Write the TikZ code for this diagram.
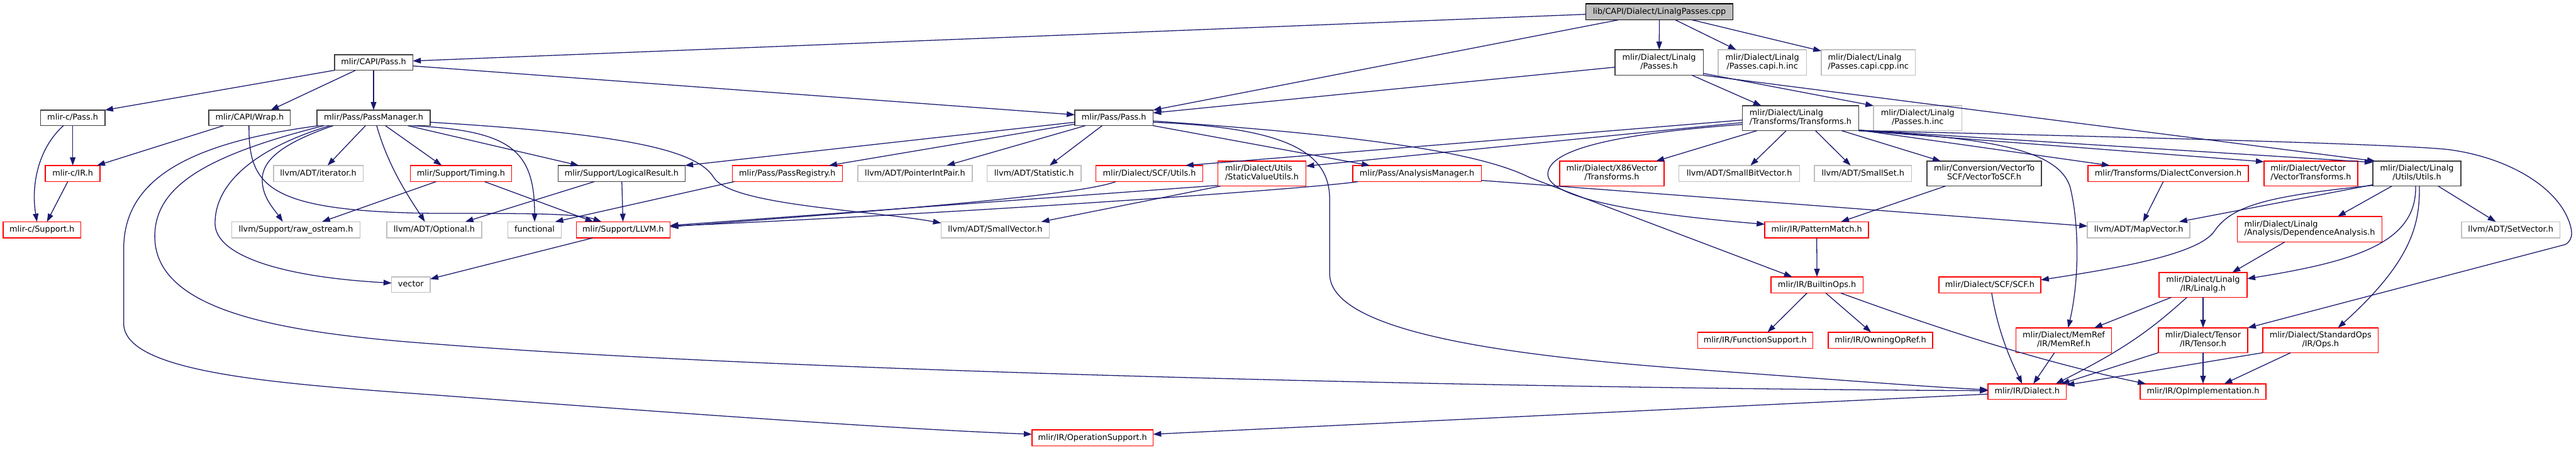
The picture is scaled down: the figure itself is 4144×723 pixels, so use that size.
\documentclass[tikz,border=0pt]{standalone}
\usepackage{fontspec}
\setmainfont{DejaVu Sans}
\usetikzlibrary{arrows.meta}
\definecolor{edgeblue}{HTML}{191970}
\definecolor{docgray}{HTML}{404040}
\definecolor{undocgray}{HTML}{BFBFBF}
\definecolor{rootgray}{HTML}{BFBFBF}
\definecolor{redb}{HTML}{FF0000}
\newcommand\twol[2]{\begin{tabular}{@{}l@{}}#1\\\multicolumn{1}{@{}c@{}}{#2}\end{tabular}}
\newcommand\nd[7]{\node[#1,minimum width=#5pt,minimum height=#6pt] (#2) at (#3,#4) {#7};}
\tikzset{
  box/.style={rectangle,inner sep=0pt,outer sep=0pt,line width=1.5pt,fill=white,font=\fontsize{13}{14}\selectfont},
  one/.style={text height=9.9pt,text depth=3.1pt},
  nb/.style={box,draw=docgray},
  nr/.style={box,draw=redb},
  ng/.style={box,draw=undocgray},
  root/.style={box,draw=black,fill=rootgray},
  e/.style={draw=edgeblue,line width=1.3pt,-{Triangle[length=13pt,width=9pt]}}
}
\begin{document}
\begin{tikzpicture}[x=1pt,y=-1pt]
\useasboundingbox (0,0) rectangle (4144,723);
\fill[white] (0,0) rectangle (4144,723);
% nodes
\nd{root,one}{top}{2669.5}{19}{237}{26}{lib/CAPI/Dialect/LinalgPasses.cpp}
\nd{nb,one}{capipass}{601}{100.5}{126}{25}{mlir/CAPI/Pass.h}
\nd{nb}{lpasses}{2669}{100.5}{142}{41}{\twol{mlir/Dialect/Linalg}{/Passes.h}}
\nd{ng}{capih}{2835}{100.5}{142}{41}{\twol{mlir/Dialect/Linalg}{/Passes.capi.h.inc}}
\nd{ng}{capicpp}{3005.5}{100.5}{151}{41}{\twol{mlir/Dialect/Linalg}{/Passes.capi.cpp.inc}}
\nd{nb,one}{cpass}{117}{189.5}{104}{25}{mlir-c/Pass.h}
\nd{nb,one}{wrap}{401.5}{189.5}{131}{25}{mlir/CAPI/Wrap.h}
\nd{nb,one}{pm}{601}{189.5}{182}{25}{mlir/Pass/PassManager.h}
\nd{nb,one}{pass}{1792}{189.5}{126}{25}{mlir/Pass/Pass.h}
\nd{nb}{transf}{2896.5}{190}{187}{40}{\twol{mlir/Dialect/Linalg}{/Transforms/Transforms.h}}
\nd{ng}{hinc}{3085}{190}{142}{40}{\twol{mlir/Dialect/Linalg}{/Passes.h.inc}}
\nd{nr,one}{cir}{117}{279}{88}{26}{mlir-c/IR.h}
\nd{ng,one}{iter}{512}{279}{144}{26}{llvm/ADT/iterator.h}
\nd{nr,one}{timing}{741.5}{279}{163}{26}{mlir/Support/Timing.h}
\nd{nb,one}{logres}{1000}{279}{204}{26}{mlir/Support/LogicalResult.h}
\nd{nr,one}{preg}{1266.5}{279}{177}{26}{mlir/Pass/PassRegistry.h}
\nd{ng,one}{pip}{1472}{279}{184}{26}{llvm/ADT/PointerIntPair.h}
\nd{ng,one}{stat}{1663.5}{279}{151}{26}{llvm/ADT/Statistic.h}
\nd{nr,one}{scfutils}{1849}{279}{172}{26}{mlir/Dialect/SCF/Utils.h}
\nd{nr}{svu}{2030}{279}{142}{40}{\twol{mlir/Dialect/Utils}{/StaticValueUtils.h}}
\nd{nr,one}{am}{2279.5}{279}{207}{26}{mlir/Pass/AnalysisManager.h}
\nd{nr}{x86}{2593}{279}{168}{40}{\twol{mlir/Dialect/X86Vector}{/Transforms.h}}
\nd{ng,one}{sbv}{2798}{279}{194}{26}{llvm/ADT/SmallBitVector.h}
\nd{ng,one}{sset}{2997}{279}{156}{26}{llvm/ADT/SmallSet.h}
\nd{nb}{v2scf}{3192}{279}{184}{40}{\twol{mlir/Conversion/VectorTo}{SCF/VectorToSCF.h}}
\nd{nr,one}{dconv}{3488}{279}{258}{26}{mlir/Transforms/DialectConversion.h}
\nd{nr}{vtrans}{3717.5}{279}{151}{40}{\twol{mlir/Dialect/Vector}{/VectorTransforms.h}}
\nd{nb}{lutils}{3888}{279}{142}{40}{\twol{mlir/Dialect/Linalg}{/Utils/Utils.h}}
\nd{nr,one}{csupport}{67.5}{369.5}{125}{26}{mlir-c/Support.h}
\nd{ng,one}{rawos}{476}{369.5}{206}{26}{llvm/Support/raw\_ostream.h}
\nd{ng,one}{opt}{698.5}{369.5}{153}{26}{llvm/ADT/Optional.h}
\nd{ng,one}{func}{860}{369.5}{86}{26}{functional}
\nd{nr,one}{llvm}{1002.5}{369.5}{151}{26}{mlir/Support/LLVM.h}
\nd{ng,one}{svec}{1601}{369.5}{174}{26}{llvm/ADT/SmallVector.h}
\nd{nr,one}{pmatch}{2922.5}{369.5}{167}{26}{mlir/IR/PatternMatch.h}
\nd{ng,one}{mapvec}{3440.5}{369.5}{165}{26}{llvm/ADT/MapVector.h}
\nd{nr}{depan}{3715.5}{368.5}{233}{41}{\twol{mlir/Dialect/Linalg}{/Analysis/DependenceAnalysis.h}}
\nd{ng,one}{setvec}{4039}{369.5}{158}{26}{llvm/ADT/SetVector.h}
\nd{ng,one}{vector}{661}{457.5}{62}{25}{vector}
\nd{nr,one}{builtin}{2923}{458}{148}{26}{mlir/IR/BuiltinOps.h}
\nd{nr,one}{scf}{3201}{458}{164}{26}{mlir/Dialect/SCF/SCF.h}
\nd{nr}{lir}{3544}{458}{142}{40}{\twol{mlir/Dialect/Linalg}{/IR/Linalg.h}}
\nd{nr,one}{funcsup}{2823.5}{547}{185}{26}{mlir/IR/FunctionSupport.h}
\nd{nr,one}{owning}{3025}{547}{168}{26}{mlir/IR/OwningOpRef.h}
\nd{nr}{memref}{3320}{547}{154}{40}{\twol{mlir/Dialect/MemRef}{/IR/MemRef.h}}
\nd{nr}{tensor}{3544}{547}{144}{40}{\twol{mlir/Dialect/Tensor}{/IR/Tensor.h}}
\nd{nr}{stdops}{3733}{547}{186}{40}{\twol{mlir/Dialect/StandardOps}{/IR/Ops.h}}
\nd{nr,one}{dialect}{3261}{629.5}{126}{25}{mlir/IR/Dialect.h}
\nd{nr,one}{opimpl}{3544}{629.5}{202}{25}{mlir/IR/OpImplementation.h}
\nd{nr,one}{opsup}{1757.5}{704}{195}{26}{mlir/IR/OperationSupport.h}
% edges from the root
\draw[e] ([yshift=-4pt]top.west) -- ([yshift=2.5pt]capipass.east);
\draw[e] ([xshift=-66pt]top.south) -- (pass.north east);
\draw[e] (top) -- (lpasses);
\draw[e] ([xshift=25.5pt]top.south) -- ([xshift=-42pt]capih.north);
\draw[e] ([xshift=52.5pt]top.south) -- ([yshift=-2pt]capicpp.north west);
% CAPI/Pass.h
\draw[e] (capipass.south west) -- (cpass.north east);
\draw[e] ([xshift=-29pt]capipass.south) -- ([xshift=34pt]wrap.north);
\draw[e] (capipass) -- (pm);
\draw[e] ([yshift=-5.5pt]capipass.east) -- ([yshift=5pt]pass.west);
% Linalg/Passes.h
\draw[e] ([yshift=-7.5pt]lpasses.west) -- ([yshift=8pt]pass.east);
\draw[e] ([xshift=53pt]lpasses.south) -- ([xshift=-63pt]transf.north);
\draw[e] ([yshift=3pt]lpasses.south east) -- (hinc.north west);
\draw[e] (lpasses.south east) -- ([xshift=4pt]lutils.north west);
% Transforms.h
\draw[e] ([yshift=1pt]transf.south east) -- ([yshift=-2pt]lutils.north west);
\draw[e] (transf.south east) -- ([yshift=-1pt]vtrans.north west);
\draw[e] (transf.south east) .. controls (3500,222) and (3850,232) .. (3935,240) .. controls (4020,250) and (4100,290) .. (4128,345) .. controls (4140,370) and (4140,385) .. (4127,393) -- (tensor.north east);
\draw[e] (transf.south east) .. controls (3200,222) and (3310,240) .. (3330,300) .. controls (3345,360) and (3345,450) .. ([xshift=7pt]memref.north);
\draw[e] ([yshift=1pt]transf.south east) -- ([xshift=-94pt]dconv.north);
\draw[e] ([xshift=66pt]transf.south) -- ([xshift=-70pt]v2scf.north);
\draw[e] ([xshift=24pt]transf.south) -- ([xshift=-20pt]sset.north);
\draw[e] ([xshift=-23pt]transf.south) -- ([xshift=18pt]sbv.north);
\draw[e] ([xshift=-70pt]transf.south) -- ([xshift=71pt]x86.north);
\draw[e] ([yshift=-3pt]transf.west) -- ([xshift=58pt]scfutils.north);
\draw[e] ([yshift=-7pt]transf.west) -- ([yshift=12pt]svu.east);
\draw[e] ([yshift=-10pt]transf.west) .. controls (2600,215) and (2490,240) .. (2490,280) .. controls (2490,320) and (2650,345) .. ([yshift=9pt]pmatch.west);
% Linalg/Utils/Utils.h
\draw[e] ([xshift=-2pt]lutils.south) .. controls (3888,390) and (3790,420) .. ([yshift=10pt]lir.east);
\draw[e] ([xshift=4pt]lutils.south) .. controls (3893,360) and (3880,420) .. ([xshift=28pt]stdops.north);
\draw[e] ([xshift=-40pt]lutils.south) -- ([xshift=45pt]depan.north);
\draw[e] ([xshift=34pt]lutils.south) -- ([xshift=-24pt]setvec.north);
\draw[e] ([yshift=2pt]lutils.south west) -- ([xshift=65pt]mapvec.north);
\draw[e] ([yshift=1pt]lutils.south west) .. controls (3650,315) and (3590,330) .. (3562,372) .. controls (3535,410) and (3400,432) .. ([yshift=8pt]scf.east);
% misc middle
\draw[e] ([xshift=-8pt]dconv.south) -- ([xshift=7pt]mapvec.north);
\draw[e] ([yshift=-11pt]am.east) -- ([yshift=6pt]mapvec.west);
\draw[e] ([xshift=-95pt]am.south) .. controls (2120,302) and (1600,340) .. ([yshift=6pt]llvm.east);
\draw[e] ([xshift=-54pt]scfutils.south) .. controls (1740,312) and (1500,333) .. ([yshift=5pt]llvm.east);
\draw[e] ([yshift=-19pt]svu.west) -- ([yshift=7pt]llvm.east);
\draw[e] ([xshift=-66pt]svu.south) -- ([xshift=-13pt]svec.north east);
% PassManager.h
\draw[e] ([yshift=-7pt]pm.east) .. controls (1000,215) and (1120,240) .. (1148,285) .. controls (1175,330) and (1400,338) .. ([yshift=11pt]svec.west);
\draw[e] ([xshift=55pt]pm.south) -- ([xshift=-69pt]logres.north);
\draw[e] ([xshift=62pt]pm.south) .. controls (820,210) and (860,240) .. (func.north);
\draw[e] ([xshift=19pt]pm.south) -- ([xshift=-31pt]timing.north);
\draw[e] ([xshift=-13pt]pm.south) -- ([xshift=15pt]iter.north);
\draw[e] ([xshift=5pt]pm.south) .. controls (625,270) and (660,320) .. ([xshift=-15pt]opt.north);
\draw[e] ([xshift=-65pt]pm.south) .. controls (470,225) and (425,250) .. (422,285) .. controls (420,315) and (440,335) .. ([xshift=-21pt]rawos.north);
\draw[e] ([xshift=-70pt]pm.south) .. controls (420,235) and (345,290) .. (346,360) .. controls (347,410) and (450,445) .. ([yshift=2.5pt]vector.west);
\draw[e] ([xshift=-80pt]pm.south) .. controls (330,250) and (249,300) .. (249,380) .. controls (249,500) and (450,535) .. (700,553) .. controls (1300,600) and (2500,625) .. ([yshift=1.5pt]dialect.west);
\draw[e] ([xshift=-88pt]pm.south) .. controls (300,230) and (199,290) .. (199,400) -- (199,520) .. controls (199,600) and (450,617) .. (700,635) .. controls (1100,665) and (1450,690) .. ([yshift=6pt]opsup.west);
% Pass.h
\draw[e] ([yshift=-7pt]pass.west) -- (logres.north east);
\draw[e] ([yshift=-10pt]pass.west) -- ([xshift=67pt]preg.north);
\draw[e] ([xshift=-46pt]pass.south) -- ([xshift=51pt]pip.north);
\draw[e] ([xshift=-19pt]pass.south) -- ([xshift=25pt]stat.north);
\draw[e] ([yshift=-5pt]pass.east) .. controls (2150,215) and (2370,240) .. (2460,285) -- ([xshift=-40pt]builtin.north);
\draw[e] ([yshift=-7pt]pass.east) .. controls (2060,205) and (2139,240) .. (2139,320) -- (2139,440) .. controls (2139,545) and (2500,578) .. (2770,597) .. controls (2950,610) and (3100,622) .. ([yshift=3pt]dialect.west);
\draw[e] (pass.south east) -- ([xshift=-76pt]am.north);
% lower right
\draw[e] ([xshift=-62pt]v2scf.south) -- ([xshift=39pt]pmatch.north);
\draw[e] (pmatch) -- (builtin);
\draw[e] ([xshift=-16pt]builtin.south) -- ([xshift=20pt]funcsup.north);
\draw[e] ([xshift=14pt]builtin.south) -- ([xshift=-15pt]owning.north);
\draw[e] ([xshift=38pt]builtin.south) .. controls (3150,540) and (3300,585) .. ([xshift=-92pt]opimpl.north);
\draw[e] ([xshift=3pt]scf.south) .. controls (3215,540) and (3240,590) .. ([xshift=-8pt]dialect.north);
\draw[e] ([xshift=-15pt]memref.south) -- ([xshift=10pt]dialect.north);
\draw[e] ([xshift=-51pt]lir.south) -- ([xshift=49pt]memref.north);
\draw[e] ([xshift=-26pt]lir.south) .. controls (3460,530) and (3420,560) .. ([xshift=46pt]dialect.north);
\draw[e] (lir) -- (tensor);
\draw[e] (tensor.south west) -- ([xshift=55pt]dialect.north);
\draw[e] (tensor) -- (opimpl);
\draw[e] ([xshift=-48pt]stdops.south) -- ([xshift=34pt]opimpl.north);
\draw[e] (stdops.south west) -- ([yshift=-2pt]dialect.north east);
\draw[e] ([xshift=-40pt]depan.south) -- ([xshift=47pt]lir.north);
\draw[e] ([yshift=-4pt]dialect.west) -- ([yshift=6pt]opsup.east);
% left group
\draw[e] (cpass) -- (cir);
\draw[e] ([xshift=-15pt]cpass.south) .. controls (60,240) and (50,300) .. ([xshift=-8pt]csupport.north);
\draw[e] ([xshift=-8pt]cir.south) -- ([xshift=8pt]csupport.north);
\draw[e] ([xshift=-42pt]wrap.south) -- ([xshift=-5pt]cir.north east);
\draw[e] ([xshift=-1pt]wrap.south) .. controls (400,300) and (430,340) .. (700,343) .. controls (850,343) and (930,343) .. ([xshift=-35pt]llvm.north);
\draw[e] ([xshift=-40pt]timing.south) -- ([xshift=42pt]rawos.north);
\draw[e] ([xshift=38pt]timing.south) -- ([xshift=-48pt]llvm.north);
\draw[e] ([xshift=-44pt]logres.south) -- ([xshift=50pt]opt.north);
\draw[e] (logres) -- (llvm);
\draw[e] ([xshift=3pt]preg.south west) -- ([xshift=33pt]func.north);
\draw[e] ([xshift=-49pt]llvm.south) -- ([yshift=9pt]vector.east);
\end{tikzpicture}
\end{document}
